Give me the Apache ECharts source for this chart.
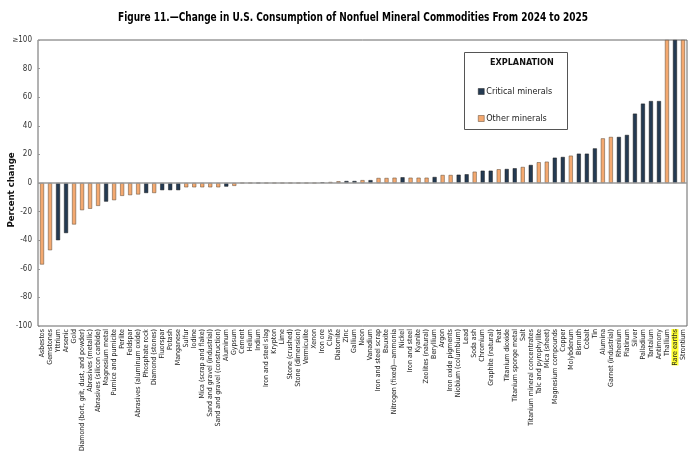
<!DOCTYPE html>
<html lang="en">
<head>
<meta charset="UTF-8">
<title>Figure 11</title>
<script src="https://cdn.jsdelivr.net/npm/echarts@6/dist/echarts.min.js"></script>
<style>
  *{margin:0;padding:0}
  html,body{width:100%;height:100%;background:#fff}
  #main{width:700px;height:455px}
</style>
</head>
<body>
<div id="main"></div>
<script>
var chart = echarts.init(document.getElementById('main'));

var categories = ['Asbestos','Gemstones','Yttrium','Arsenic','Gold','Diamond (bort, grit, dust, and powder)',
  'Abrasives (metallic)','Abrasives (silicon carbide)','Magnesium metal','Pumice and pumicite','Perlite','Feldspar',
  'Abrasives (aluminum oxide)','Phosphate rock','Diamond (stones)','Fluorspar','Potash','Manganese','Sulfur','Iodine',
  'Mica (scrap and flake)','Sand and gravel (industrial)','Sand and gravel (construction)','Aluminum','Gypsum','Cement',
  'Helium','Indium','Iron and steel slag','Krypton','Lime','Stone (crushed)','Stone (dimension)','Vermiculite','Xenon',
  'Iron ore','Clays','Diatomite','Zinc','Gallium','Neon','Vanadium','Iron and steel scrap','Bauxite',
  'Nitrogen (fixed)\u2014ammonia','Nickel','Iron and steel','Kyanite','Zeolites (natural)','Beryllium','Argon',
  'Iron oxide pigments','Niobium (columbium)','Lead','Soda ash','Chromium','Graphite (natural)','Peat','Titanium dioxide',
  'Titanium sponge metal','Salt','Titanium mineral concentrates','Talc and pyrophyllite','Mica (sheet)',
  'Magnesium compounds','Copper','Molybdenum','Bismuth','Cobalt','Tin','Alumina','Garnet (industrial)','Rhenium',
  'Platinum','Silver','Palladium','Tantalum','Antimony','Thallium','Rare earths','Strontium'];

// percent change; values shown as "≥ 100" are capped at 100
var values = [-57,-47,-40,-35,-29,-19,-18,-16,-13,-12,-9,-8.5,-8,-7,-7,-5,-5,-5,-3,-3,-3,-3,-3,-2.5,-2,0,
  0,0,0,0,0,0,0,0,0,0.5,0.7,1.2,1.4,1.4,2,2,3.5,3.5,3.7,4,3.7,3.7,3.7,4.2,5.6,5.6,5.8,6.1,7.9,8.6,8.6,9.6,9.8,
  10.3,11.2,12.6,14.5,14.9,17.7,18.2,19.1,20.5,20.5,24.2,31.2,32.2,32.2,33.6,48.5,55.5,57.3,57.3,100,100,100];

// C = critical mineral, O = other mineral
var groups = ['O','O','C','C','O','O','O','O','C','O','O','O','O','C','O','C','C','C','O','O','O','O','O','C','O','O',
  'O','C','O','O','O','O','O','O','O','C','O','O','C','C','O','C','O','O','O','C','O','O','O','C','O','O','C','C','O',
  'C','C','O','C','C','O','C','O','O','C','C','O','C','C','C','O','O','C','C','C','C','C','C','O','C','O'];

var yTicks = [-100,-80,-60,-40,-20,0,20,40,60,80,100];

var darkColor = '#243a52';
var orangeColor = '#f4a970';
var narrow = '"Liberation Sans Narrow", "Arial Narrow", "DejaVu Sans Condensed", sans-serif';

function pick(g) {
  return values.map(function (v, i) { return groups[i] === g ? v : null; });
}

var option = {
  backgroundColor: '#fff',
  animation: false,
  textStyle: {fontFamily: narrow},
  grid: {
    left: 38, right: 13, top: 40, bottom: 129,
    outerBoundsMode: 'none', containLabel: false,
    show: true, borderColor: '#666', borderWidth: 1, backgroundColor: 'transparent'
  },
  legend: {
    orient: 'vertical',
    left: 473, top: 82,
    itemWidth: 6, itemHeight: 6, itemGap: 18,
    textStyle: {fontFamily: narrow, fontSize: 9, color: '#222', padding: [0, 0, 0, -3]},
    data: [
      {name: 'Critical minerals', icon: 'rect', itemStyle: {color: darkColor, borderColor: '#222', borderWidth: 0.5}},
      {name: 'Other minerals', icon: 'rect', itemStyle: {color: orangeColor, borderColor: '#5a4632', borderWidth: 0.5}}
    ]
  },
  graphic: [
    {type: 'text', x: 353, y: 18, scaleX: 0.8, originX: 0,
      style: {text: 'Figure 11.\u2014Change in U.S. Consumption of Nonfuel Mineral Commodities From 2024 to 2025',
        fontFamily: narrow, fontSize: 12.5, fontWeight: 'bold', fill: '#000', align: 'center', verticalAlign: 'middle'}},
    {type: 'text', x: 12, y: 190, rotation: Math.PI / 2,
      style: {text: 'Percent change', fontFamily: narrow, fontSize: 9.5, fontWeight: 'bold', fill: '#111',
        align: 'center', verticalAlign: 'middle'}},
    // top tick label drawn in two pieces ("≥" and "100")
    {type: 'text', x: 18.5, y: 40, z: 100,
      style: {text: '\u2265', fontFamily: 'DejaVu Sans', fontSize: 7.5, fill: '#333', align: 'right', verticalAlign: 'middle'}},
    {type: 'text', x: 32, y: 40, z: 100,
      style: {text: '100', fontFamily: narrow, fontSize: 8, fill: '#333', align: 'right', verticalAlign: 'middle'}},
    {type: 'rect', left: 464, top: 52, shape: {width: 103, height: 77},
      style: {fill: '#fff', stroke: '#555', lineWidth: 1}, z: -1},
    {type: 'text', left: 490, top: 58,
      style: {text: 'EXPLANATION', fontFamily: narrow, fontSize: 9, fontWeight: 'bold', fill: '#111'}}
  ],
  xAxis: {
    type: 'category',
    data: categories,
    position: 'bottom',
    axisLine: {show: false, onZero: false},
    axisTick: {show: false},
    axisLabel: {
      interval: 0, rotate: 90, fontSize: 7, color: '#222', margin: 3, fontFamily: narrow,
      formatter: function (v) { return v === 'Rare earths' ? '{hl|' + v + '}' : v; },
      rich: {hl: {backgroundColor: '#ffff33', fontSize: 7, fontFamily: narrow, color: '#222'}}
    }
  },
  yAxis: {
    type: 'value',
    min: yTicks[0], max: yTicks[yTicks.length - 1], interval: 20,
    axisLine: {show: false},
    axisTick: {show: true, inside: true, length: 2, lineStyle: {color: '#999'}},
    splitLine: {show: false},
    axisLabel: {
      fontSize: 8, color: '#333', margin: 6, fontFamily: narrow,
      formatter: function (v) { return v === 100 ? '' : String(v); }
    }
  },
  series: [
    {
      name: 'Critical minerals', type: 'bar', barWidth: '50%', barGap: '-100%',
      itemStyle: {color: darkColor, borderColor: '#1a1a1a', borderWidth: 0.5},
      data: pick('C'),
      markLine: {
        silent: true, symbol: 'none', label: {show: false},
        lineStyle: {color: '#9a9a9a', type: 'solid', width: 1.5},
        data: [{yAxis: 0}]
      }
    },
    {
      name: 'Other minerals', type: 'bar', barWidth: '50%', barGap: '-100%',
      itemStyle: {color: orangeColor, borderColor: '#5a4632', borderWidth: 0.5},
      data: pick('O')
    }
  ]
};
chart.setOption(option);
</script>
</body>
</html>
